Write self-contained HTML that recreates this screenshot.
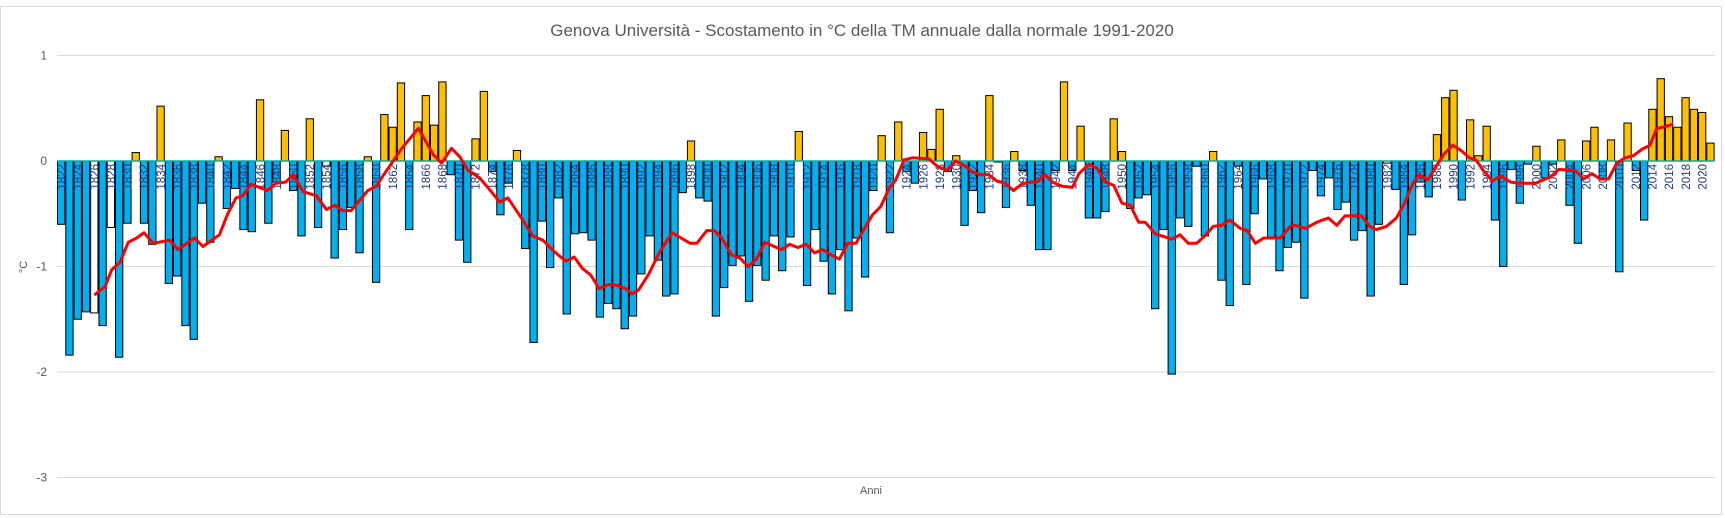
<!DOCTYPE html>
<html><head><meta charset="utf-8">
<style>
html,body{margin:0;padding:0;background:#fff;}
svg{display:block;font-family:"Liberation Sans",sans-serif;}
</style></head>
<body>
<svg id="c" width="1725" height="518" xmlns="http://www.w3.org/2000/svg">
<rect x="0.5" y="6.5" width="1721" height="508" fill="#fff" stroke="#d9d9d9"/>
<text x="862" y="36" font-size="17" fill="#595959" text-anchor="middle">Genova Università - Scostamento in °C della TM annuale dalla normale 1991-2020</text>
<g id="grid"></g>
<g id="bars"></g>
<g id="labels"></g>
<g id="line"></g>
<text x="27" y="267" font-size="11" fill="#595959" text-anchor="middle" transform="rotate(-90 27 267)">°C</text>
<text x="871" y="494" font-size="11" fill="#595959" text-anchor="middle">Anni</text>
</svg>
<script>
var v=[-0.60,-1.84,-1.50,-1.43,-1.44,-1.56,-0.63,-1.86,-0.59,0.08,-0.59,-0.79,0.52,-1.16,-1.09,-1.56,-1.69,-0.40,-0.77,0.04,
-0.45,-0.26,-0.65,-0.67,0.58,-0.59,-0.20,0.29,-0.28,-0.71,0.40,-0.63,-0.05,-0.92,-0.65,-0.44,-0.87,0.04,-1.15,0.44,
0.32,0.74,-0.65,0.37,0.62,0.34,0.75,-0.13,-0.75,-0.96,0.21,0.66,-0.10,-0.51,-0.21,0.10,-0.83,-1.72,-0.57,-1.01,
-0.35,-1.45,-0.69,-0.68,-0.75,-1.48,-1.35,-1.40,-1.59,-1.47,-1.07,-0.71,-0.94,-1.28,-1.26,-0.30,0.19,-0.35,-0.38,-1.47,
-1.20,-0.99,-0.90,-1.33,-0.99,-1.13,-0.71,-1.04,-0.72,0.28,-1.18,-0.65,-0.95,-1.26,-0.84,-1.42,-0.73,-1.10,-0.28,0.24,
-0.68,0.37,-0.10,-0.21,0.27,0.11,0.49,-0.10,0.05,-0.61,-0.28,-0.49,0.62,-0.01,-0.44,0.09,-0.09,-0.42,-0.84,-0.84,
-0.09,0.75,-0.09,0.33,-0.54,-0.54,-0.48,0.40,0.09,-0.45,-0.35,-0.32,-1.40,-0.65,-2.02,-0.54,-0.62,-0.05,-0.71,0.09,
-1.13,-1.37,-0.05,-1.17,-0.50,-0.17,-0.72,-1.04,-0.82,-0.77,-1.30,-0.09,-0.33,-0.16,-0.46,-0.39,-0.75,-0.66,-1.28,-0.60,
-0.02,-0.27,-1.17,-0.70,-0.20,-0.34,0.25,0.60,0.67,-0.37,0.39,0.05,0.33,-0.56,-1.00,-0.08,-0.40,-0.03,0.14,-0.16,
-0.03,0.20,-0.42,-0.78,0.19,0.32,-0.18,0.20,-1.05,0.36,-0.09,-0.56,0.49,0.78,0.42,0.32,0.60,0.49,0.46,0.17];
var red=[1826.0,-1.27,1827.3,-1.19,1828.1,-1.03,1829.1,-0.96,1830.1,-0.77,1831.1,-0.73,1832.0,-0.68,1833.1,-0.78,1835.1,-0.75,1836.1,-0.84,
1838.1,-0.73,1839.1,-0.81,1841.1,-0.70,1842.1,-0.50,1843.1,-0.35,1843.9,-0.33,1844.9,-0.22,1846.9,-0.28,1847.9,-0.21,1849.1,-0.20,
1850.0,-0.13,1851.2,-0.29,1852.8,-0.33,1854.0,-0.46,1855.0,-0.42,1856.0,-0.47,1857.0,-0.47,1859.0,-0.28,1860.0,-0.24,1861.0,-0.12,
1863.1,0.12,1865.1,0.31,1866.9,0.06,1867.9,-0.02,1869.1,0.12,1870.1,0.04,1871.1,-0.09,1872.5,-0.16,1873.9,-0.29,1874.9,-0.39,
1875.9,-0.35,1877.7,-0.56,1878.9,-0.71,1880.1,-0.75,1881.5,-0.86,1882.9,-0.95,1883.9,-0.91,1884.9,-1.02,1885.9,-1.08,1886.9,-1.21,
1888.1,-1.17,1889.1,-1.18,1890.1,-1.21,1890.9,-1.26,1891.7,-1.22,1892.9,-1.07,1894.1,-0.88,1895.7,-0.68,1897.9,-0.78,1898.7,-0.78,
1899.9,-0.66,1900.8,-0.66,1901.7,-0.73,1902.9,-0.89,1903.9,-0.92,1904.9,-1.00,1905.9,-0.93,1906.9,-0.77,1908.9,-0.84,1909.9,-0.79,
1910.9,-0.82,1911.9,-0.79,1912.9,-0.87,1913.9,-0.84,1914.9,-0.89,1915.9,-0.93,1916.9,-0.78,1917.9,-0.78,1918.9,-0.64,1919.9,-0.51,
1920.9,-0.43,1921.9,-0.26,1922.7,-0.18,1923.7,0.01,1924.7,0.03,1926.7,0.02,1927.7,-0.05,1928.9,-0.09,1929.9,0.00,1930.9,-0.04,
1931.9,-0.10,1932.9,-0.13,1933.9,-0.13,1934.9,-0.19,1935.9,-0.21,1936.9,-0.28,1937.9,-0.22,1938.9,-0.20,1939.7,-0.20,1940.7,-0.13,
1941.6,-0.20,1942.8,-0.24,1944.0,-0.25,1944.8,-0.12,1946.0,-0.03,1947.0,-0.07,1948.0,-0.20,1949.0,-0.23,1950.0,-0.40,1951.0,-0.42,
1952.0,-0.58,1952.8,-0.58,1954.0,-0.69,1956.0,-0.74,1957.0,-0.70,1958.0,-0.78,1959.0,-0.78,1960.0,-0.71,1961.0,-0.62,1962.0,-0.61,
1963.0,-0.56,1964.3,-0.64,1965.1,-0.66,1966.1,-0.78,1967.1,-0.73,1969.1,-0.73,1970.3,-0.62,1970.9,-0.61,1972.1,-0.64,1973.5,-0.58,
1974.9,-0.54,1975.9,-0.61,1976.9,-0.52,1978.9,-0.52,1979.9,-0.62,1980.7,-0.65,1981.9,-0.62,1983.1,-0.54,1984.1,-0.40,1985.1,-0.21,
1985.9,-0.13,1986.9,-0.18,1987.9,-0.05,1988.9,0.07,1989.9,0.15,1990.9,0.10,1991.9,0.03,1992.7,0.01,1993.7,-0.10,1994.7,-0.19,
1995.7,-0.14,1996.9,-0.20,1997.9,-0.21,1999.9,-0.21,2001.7,-0.15,2002.7,-0.08,2004.7,-0.09,2005.7,-0.17,2006.7,-0.12,2007.7,-0.17,
2008.7,-0.17,2009.7,-0.02,2010.7,0.03,2011.7,0.05,2012.7,0.11,2013.7,0.15,2014.5,0.31,2015.3,0.32,2016.5,0.35];
var white={1826:1,1828:1,1854:1,1982:1};
var Z=161,U=105.5,L=57,W=8.288,NS="http://www.w3.org/2000/svg";
function el(t,a,p){var e=document.createElementNS(NS,t);for(var k in a)e.setAttribute(k,a[k]);document.getElementById(p).appendChild(e);return e;}
[1,0,-1,-2,-3].forEach(function(g){var y=Z-g*U;
 if(g!==0)el('line',{x1:L,x2:1714.6,y1:y,y2:y,stroke:'#d9d9d9','stroke-width':1},'grid');
 var t=el('text',{x:47,y:y+4,'font-size':12,fill:'#595959','text-anchor':'end'},'grid');t.textContent=g;});
for(var i=0;i<v.length;i++){var yr=1822+i,x=L+i*W,h=v[i]*U;
 var fill=v[i]>=0?'#FFC000':(white[yr]?'#ffffff':'#00B0F0');
 el('rect',{x:x+0.5,y:h>=0?Z-h:Z,width:W-1,height:Math.abs(h),fill:fill,stroke:'#000','stroke-width':1},'bars');}
el('line',{x1:L,x2:1714.6,y1:Z,y2:Z,stroke:'#00B0A0','stroke-width':1.5},'bars');
for(var i=0;i<v.length;i+=2){var cx=L+i*W+W/2;
 var t=el('text',{'font-size':11.5,fill:'#1F3A8A','text-anchor':'end',transform:'translate('+(cx+4.2)+',164) rotate(-90)'},'labels');t.textContent=1822+i;}
var pts=[];
for(var j=0;j<red.length;j+=2){pts.push((L+(red[j]-1822+0.5)*W).toFixed(1)+','+(Z-red[j+1]*U).toFixed(1));}
el('polyline',{points:pts.join(' '),fill:'none',stroke:'#FF0000','stroke-width':3,'stroke-linejoin':'round'},'line');
</script>
</body></html>
